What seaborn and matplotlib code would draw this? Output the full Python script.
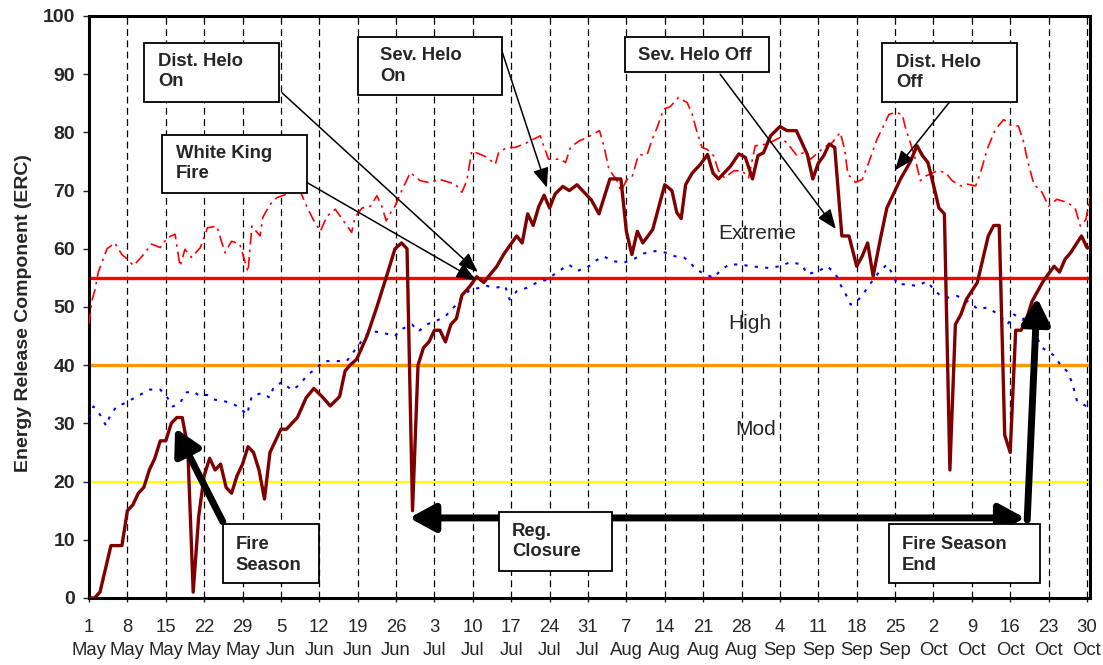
import numpy as np
import pandas as pd
import matplotlib
matplotlib.use("Agg")
import matplotlib.pyplot as plt
import seaborn as sns
from matplotlib.patches import Rectangle

# day 0 = 1 May
tick_days = list(range(0, 183, 7))
tick_labels = ["1\nMay", "8\nMay", "15\nMay", "22\nMay", "29\nMay", "5\nJun", "12\nJun",
               "19\nJun", "26\nJun", "3\nJul", "10\nJul", "17\nJul", "24\nJul", "31\nJul",
               "7\nAug", "14\nAug", "21\nAug", "28\nAug", "4\nSep", "11\nSep", "18\nSep",
               "25\nSep", "2\nOct", "9\nOct", "16\nOct", "23\nOct", "30\nOct"]

# current season ERC (dark red)
erc_day = [0, 1, 2, 4, 6, 7, 8, 9, 10, 11, 12, 13, 14, 15, 16, 17, 18, 19, 20, 21, 22, 23, 24, 25,
           26, 27, 28, 29, 30, 31, 32, 33, 34, 35, 36, 38, 39.6, 41, 42.5, 44, 45.7, 46.7, 47.6,
           48.8, 50.7, 52.5, 53.5, 54.5, 55.8, 57, 58, 59, 60, 61, 62, 63, 64, 65, 66, 67, 68,
           69.5, 70.7, 72, 73, 74.4, 75.6, 76.7, 78, 79, 80, 81, 82, 83, 84, 85, 86.4, 87.6, 89,
           90, 91.6, 93, 95, 97, 98, 99, 100, 101, 102.8, 105, 106.3, 107.2, 108, 108.8, 110,
           111.5, 112.8, 113.8, 114.8, 117, 118.5, 119.7, 121, 122, 123, 124.3, 126, 127.3, 129,
           131, 132, 133, 134, 135, 136, 137.3, 138.6, 140, 141, 142, 143, 144.3, 145.5, 147, 148,
           149.7, 151, 152, 153, 154, 155, 156, 157, 158, 159, 160, 162, 164, 165, 166, 167, 168,
           169, 170, 171, 172, 174, 176, 177, 178, 179, 181, 182, 182.6]
erc_val = [0, 0, 1, 9, 9, 15, 16, 18, 19, 22, 24, 27, 27, 30, 31, 31, 26, 1, 14, 21, 24, 22, 23, 19,
           18, 21, 23, 26, 25, 22, 17, 25, 27, 29, 29, 31, 34.4, 36, 34.6, 33, 34.6, 39, 40,
           41, 45, 50, 53, 56, 60, 61, 60, 15, 40, 43, 44, 46, 46, 44, 47, 48, 52,
           53.6, 55.2, 54.2, 55.4, 57, 59, 60.5, 62.2, 61, 66, 64, 67.2, 69.2, 67, 69.4, 70.7, 70, 71,
           70, 68.4, 66, 72, 72, 63, 59, 63, 61, 63.3, 71, 70, 66.2, 65.2, 71, 73,
           74.5, 76.2, 73, 72, 74.2, 76.3, 75.7, 72, 76, 76.5, 79.4, 81, 80.3, 80.3,
           76.2, 72, 74.7, 76, 78, 77.4, 62.2, 62.2, 57, 58.7, 61, 55.3, 61.6, 67, 70, 72,
           74.8, 77.7, 76, 74.8, 71, 67, 66, 22, 47, 48.7, 51.3, 54.2, 62.2, 64, 64, 28, 25,
           46, 46, 48, 51, 54.4, 57, 56, 58.2, 59.3, 62.2, 60.2, 60.2]

# maximum ERC (red dash-dot)
max_day = [0, 0.5, 1.1, 1.7, 2.5, 3.3, 4.7, 6, 6.9, 8.1, 9.3, 10.2, 11.4, 13, 14.3, 15.7, 16.6,
           17.5, 18.7, 20.3, 21.6, 23.3, 24.8, 26, 27.5, 29, 29.7, 31.2, 31.7, 33, 34.3, 37, 38.5,
           39.7, 40.9, 42.2, 43.4, 44.9, 46.4, 47.9, 48.5, 49.8, 51.3, 52.5, 53.4, 54.2, 55, 55.8,
           57, 58.6, 60.4, 61.9, 64, 66.8, 68, 68.9, 69.8, 71.4, 72.6, 74.1, 74.7, 76.2, 77.7,
           79.4, 81, 82.3, 82.9, 83.8, 86, 86.9, 87.8, 89.3, 90.8, 93.1, 93.9, 94.8, 96.3, 97,
           98.1, 99, 100.2, 101.8, 102.7, 103.6, 104.8, 106, 107.5, 109.1, 110, 110.9, 111.8,
           112.7, 113.9, 114.8, 115.9, 117.6, 119.1, 120.3, 121.5, 123.7, 126, 127.3, 129.1,
           130.3, 131.6, 134, 135.5, 137, 137.8, 138.4, 139.8, 141, 142.2, 143.7, 144.9, 145.9,
           147.1, 148.3, 148.9, 149.8, 150.7, 151.6, 152.6, 154.7, 156.2, 157.4, 159, 160.2,
           161.7, 162.6, 163.8, 165.3, 166.8, 168.3, 169.5, 170.5, 171.1, 172.3, 173.8, 175,
           176.5, 178.6, 179.9, 180.8, 181.8, 182.6]
max_val = [47, 51, 53, 56, 58, 60, 61, 59, 58.3, 57.1, 58.3, 59.3, 60.8, 60.2, 61.9, 62.5, 57,
           59.9, 58.5, 60.2, 63.6, 63.9, 59.3, 61.3, 60.8, 56, 63.9, 62.2, 65.4, 67.6, 68.8, 69.7, 69.9,
           67.3, 65, 63, 65.6, 66.8, 64.8, 62.8, 65.4, 67, 67.3, 69.1, 67.3, 64.8, 66.2, 67.3,
           69.9, 73.1, 71.7, 71.4, 71.9, 71.1, 69.7, 71.7, 76.8, 76.2, 75.7, 74.5, 76.5, 77.4, 77.4,
           78, 78.8, 79.4, 77.7, 75.4, 75.4, 74.8, 77.4, 78.5, 79.1, 80.3, 77.7, 73.7, 71.7, 69.9,
           71.9, 72.2, 76.1, 76.2, 78.8, 80.8, 84, 84.4, 86, 85.1, 83.1, 80, 77.4,
           77.1, 76, 73.4, 72.2, 73.4, 73.4, 72.2, 77.7, 78, 79.1, 78.2, 76,
           76.5, 75.4, 77.4, 78.2, 80, 77.1, 72.8, 71.4, 71.9, 74.8, 78.8, 81.1, 83.1,
           83.4, 83.1, 80.8, 78.2, 75.4, 71.7, 72.5, 73.4, 73.1, 71.7, 70.8, 71.1,
           70.8, 73.1, 77.1, 80.5, 82.2, 81.1, 81.1, 78.2, 75.4, 71.1, 69.7, 67.3,
           68.5, 67.9, 66.8, 63.9, 65, 69.1]

# average ERC (blue dotted)
avg_day = [0, 0.8, 2, 3.1, 3.8, 5, 6.6, 9.3, 11, 13, 14.3, 15.3, 16.6, 17.7, 19, 20.2, 21.5, 22.7,
           24.2, 26, 27.6, 28.8, 29.7, 31.5, 33, 33.6, 35.2, 37, 38.5, 39.7, 41.5, 42.8, 44.6, 47,
           48.8, 50.7, 51.8, 53.4, 55.8, 56.8, 58.9, 60.1, 61.6, 63.3, 65, 66.5, 68, 69.5, 71.4,
           72.6, 74.1, 75.9, 76.7, 78, 79.9, 81.7, 83.5, 85.3, 87.5, 89, 90.8, 92.3, 93.9, 95.4,
           97.5, 99.3, 101.2, 103.3, 105.4, 106.9, 108.5, 109.7, 110.6, 111.8, 113.9, 115.1,
           116.7, 118.8, 120.6, 124, 126, 127.9, 130, 131, 133.1, 134.6, 136.1, 137, 137.9, 138.9,
           140.1, 141.3, 142.8, 144, 145.5, 146.6, 147.4, 149.2, 151, 152.8, 154.1, 155.3, 156.8,
           158.3, 160.8, 162.1, 163.8, 165.9, 167.5, 168.7, 170.2, 171.1, 172.6, 173.8, 175.8,
           176.9, 178.4, 179.3, 180.2, 182]
avg_val = [31, 32.9, 31.5, 29.6, 31.2, 32.9, 33.5, 34.9, 35.8, 35.8, 34.4, 32.9, 33.5, 35.3, 35.5,
           34.7, 34.9, 34.1, 33.9, 33.5, 32.6, 31.5, 34.7, 35.2, 34.4, 36.1, 37.1, 35.7, 36.7, 38.2,
           39.5, 40.7, 40.7, 40.7, 43, 45.3, 45.8, 45.6, 45, 46.1, 47, 45.8, 47, 47.6, 48.4, 49.9,
           51.5, 53, 53.3, 53.6, 53.3, 53.6, 51.3, 52.7, 53.3, 54.2, 54.7, 55.9, 57.3, 56.2, 56.7,
           57.9, 58.7, 57.9, 57.6, 58.2, 59.2, 59.6, 59.3, 58.7, 58.5, 57.6, 56.5, 55.9, 55, 56.2,
           57.3, 57.3, 57, 56.7, 57, 57.7, 57.3, 55.6, 56.2, 57, 55.8, 53.9, 52.4, 50.4, 51, 52.4,
           54.4, 55.9, 57.3, 55.6, 53.9, 53.9, 53.6, 54.4, 53, 51.9, 51.6, 51.9, 50.7, 49.6, 49.9,
           48.7, 47, 48.7, 47.8, 48.4, 45.3, 43, 41.8, 40.4, 38.9, 37, 33.8, 32.9]

# class thresholds
levels = [20, 40, 55]
level_colors = ["#FFFF00", "#FF9900", "#FF0000"]
level_widths = [1.6, 2.4, 2.4]
class_names = ["Mod", "High", "Extreme"]
class_pos = [(121.5, 28.9), (120.5, 47.2), (121.8, 62.7)]

sns.set_style("ticks")
plt.rcParams["font.family"] = ["Liberation Sans", "DejaVu Sans"]

fig = plt.figure(figsize=(11.03, 6.65), dpi=100)
ax = fig.add_axes([0.0807, 0.1008, 0.9075, 0.8752])

for d in tick_days:
    ax.axvline(d, color="black", lw=0.9, ls=(0, (5.5, 3.5)), zorder=1)
for lv, c, w in zip(levels, level_colors, level_widths):
    ax.axhline(lv, color=c, lw=w, zorder=2)

sns.lineplot(x=avg_day, y=avg_val, ax=ax, color="#0000FF", lw=1.5,
             linestyle=(0, (1.5, 3.5)), estimator=None, zorder=3)
sns.lineplot(x=max_day, y=max_val, ax=ax, color="#FF0000", lw=1.2,
             linestyle=(0, (7, 3, 1.5, 3)), estimator=None, zorder=3)
sns.lineplot(x=erc_day, y=erc_val, ax=ax, color="#800000", lw=2.4,
             estimator=None, zorder=4)

for name, (cx, cy) in zip(class_names, class_pos):
    ax.text(cx, cy, name, fontsize=15, ha="center", va="center", zorder=5)

ax.set_xlim(0, 182.55)
ax.set_ylim(0, 100)
ax.set_yticks(range(0, 101, 10))
ax.set_xticks(tick_days)
ax.set_xticklabels(tick_labels)
ax.tick_params(axis="x", labelsize=13.3, length=3, width=1, pad=12, direction="out")
ax.tick_params(axis="y", labelsize=14, length=4, width=1, pad=6, direction="out")
for lbl in ax.get_yticklabels():
    lbl.set_fontweight("bold")
for lbl in ax.get_xticklabels():
    lbl.set_linespacing(1.45)
ax.set_xlabel("")
ax.set_ylabel("Energy Release Component (ERC)", fontsize=14, fontweight="bold")
ax.yaxis.set_label_coords(-0.057, 0.49)
for sp in ax.spines.values():
    sp.set_visible(True)
    sp.set_linewidth(2.2)
    sp.set_color("black")

# callout boxes: (x0, x1, y_bottom, y_top, text_x, text_top, text)
boxes = [
    (10.0, 34.6, 85.2, 95.4, 12.6, 93.6, "Dist. Helo\nOn"),
    (13.4, 39.8, 69.6, 79.6, 15.8, 77.8, "White King\nFire"),
    (49.1, 75.3, 86.4, 96.4, 53.1, 94.6, "Sev. Helo\nOn"),
    (97.8, 124.0, 90.3, 96.4, 100.2, 94.7, "Sev. Helo Off"),
    (144.7, 169.3, 85.3, 95.4, 147.2, 93.5, "Dist. Helo\nOff"),
    (24.4, 42.0, 2.5, 12.7, 26.8, 10.6, "Fire\nSeason"),
    (74.8, 95.4, 4.7, 14.8, 77.1, 12.9, "Reg.\nClosure"),
    (145.9, 173.4, 2.5, 12.7, 148.3, 10.6, "Fire Season\nEnd"),
]

thin = dict(arrowstyle="-|>,head_length=1.0,head_width=0.4", color="black", lw=1.1,
            mutation_scale=12, shrinkA=0, shrinkB=0)
thick = dict(arrowstyle="-|>,head_length=1.1,head_width=0.6", color="black", lw=5,
             mutation_scale=14, shrinkA=0, shrinkB=0)
thick2 = dict(arrowstyle="<|-|>,head_length=1.1,head_width=0.6", color="black", lw=5,
              mutation_scale=14, shrinkA=0, shrinkB=0)

arrows = [
    ((35.2, 86.8), (70.9, 56.0), thin),
    ((39.9, 71.3), (70.6, 54.6), thin),
    ((74.8, 95.4), (83.5, 70.5), thin),
    ((115.1, 90.0), (136.2, 63.4), thin),
    ((161.0, 90.0), (147.0, 73.5), thin),
    ((24.4, 13.1), (15.7, 29.2), thick),
    ((170.7, 13.75), (58.4, 13.75), thick2),
    ((171.1, 13.4), (172.9, 51.6), thick),
]
for start, end, props in arrows:
    ax.annotate("", xy=end, xytext=start, arrowprops=props, zorder=6)

for x0, x1, y0, y1, tx, ty, txt in boxes:
    ax.add_patch(Rectangle((x0, y0), x1 - x0, y1 - y0, facecolor="white",
                           edgecolor="black", lw=1.3, zorder=7))
    ax.text(tx, ty, txt, fontsize=13.3, fontweight="bold", ha="left", va="top",
            linespacing=1.25, zorder=8)

fig.savefig("out.png", dpi=100)
